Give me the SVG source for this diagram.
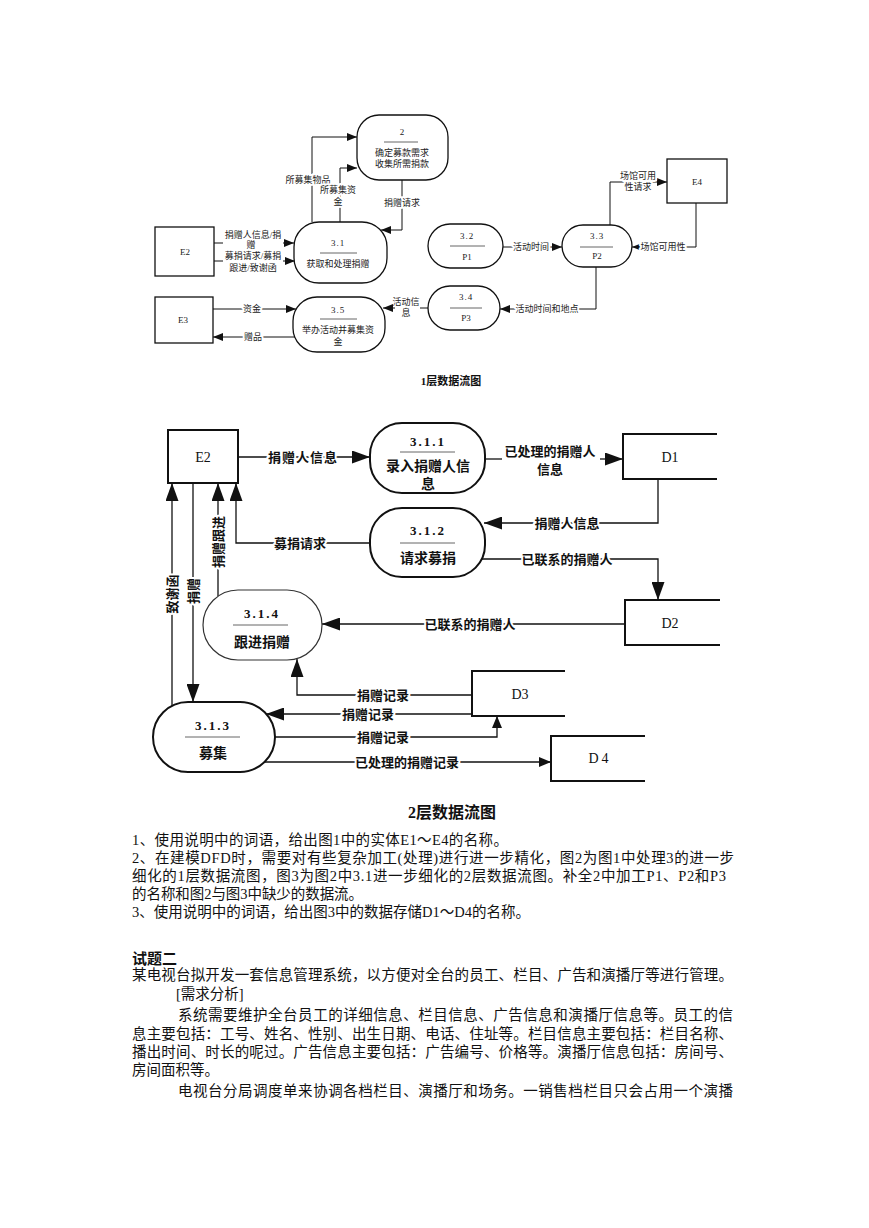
<svg xmlns="http://www.w3.org/2000/svg" width="869" height="1228" viewBox="0 0 869 1228">
<defs>
<style>
.n1{fill:#fff;stroke:#111;stroke-width:1.3}
.n2{fill:#fff;stroke:#111;stroke-width:2}
.sep{stroke:#666;stroke-width:1}
.t1{font-family:"Liberation Serif","Noto Sans CJK SC",serif;font-size:9px;fill:#222;text-anchor:middle;dominant-baseline:central}
.t2{font-family:"Liberation Serif","Noto Sans CJK SC",serif;font-size:13px;font-weight:bold;fill:#111;text-anchor:middle;dominant-baseline:central}
.t2n{font-family:"Liberation Serif","Noto Sans CJK SC",serif;font-size:14px;font-weight:bold;fill:#111;text-anchor:middle;dominant-baseline:central}
.t2d{font-family:"Liberation Serif","Noto Sans CJK SC",serif;font-size:14px;fill:#111;text-anchor:middle;dominant-baseline:central}
.h{stroke:#fff;stroke-width:4px;paint-order:stroke;stroke-linejoin:round}
.body{font-family:"Liberation Serif","Noto Sans CJK SC",serif;font-size:14.5px;fill:#111}
.c1{stroke:#111;stroke-width:1;fill:none}
.c2{stroke:#111;stroke-width:1.3;fill:none}
</style>
<marker id="ah1" viewBox="0 0 10 8" refX="10" refY="4" markerWidth="10" markerHeight="8" markerUnits="userSpaceOnUse" orient="auto"><path d="M0,0L10,4L0,8z" fill="#111"/></marker>
<marker id="ah2" viewBox="0 0 18 13" refX="18" refY="6.5" markerWidth="18" markerHeight="13" markerUnits="userSpaceOnUse" orient="auto"><path d="M0,0L18,6.5L0,13z" fill="#111"/></marker>
<marker id="ah3" viewBox="0 0 12 10" refX="12" refY="5" markerWidth="12" markerHeight="10" markerUnits="userSpaceOnUse" orient="auto"><path d="M0,0L12,5L0,10z" fill="#111"/></marker>
</defs>
<rect width="869" height="1228" fill="#fff"/>

<!-- ===== Level 1 diagram ===== -->
<g id="connectors-l1" class="c1">
<path d="M214,243H223"/><path d="M283,243H294" marker-end="url(#ah1)"/>
<path d="M214,261H223"/><path d="M283,261H295" marker-end="url(#ah1)"/>
<path d="M312,222V137H357" marker-end="url(#ah1)"/>
<path d="M340,222V168H357" marker-end="url(#ah1)"/>
<path d="M402,180V230H381" marker-end="url(#ah1)"/>
<path d="M213,309H296" marker-end="url(#ah1)"/>
<path d="M299,337H213" marker-end="url(#ah1)"/>
<path d="M428,308H420"/><path d="M395,308H383" marker-end="url(#ah1)"/>
<path d="M503,247H562" marker-end="url(#ah1)"/>
<path d="M610,225V182H667" marker-end="url(#ah1)"/>
<path d="M696,203V247H632" marker-end="url(#ah1)"/>
<path d="M596,267V309H500" marker-end="url(#ah1)"/>
</g>
<g id="labels-l1">
<text class="t1" x="253" y="235">捐赠人信息/捐</text>
<text class="t1" x="251" y="245">赠</text>
<text class="t1" x="253" y="256">募捐请求/募捐</text>
<text class="t1" x="253" y="268">跟进/致谢函</text>
<text class="t1 h" x="308" y="180">所募集物品</text>
<text class="t1 h" x="338" y="190">所募集资</text>
<text class="t1 h" x="338" y="202">金</text>
<text class="t1 h" x="402" y="203">捐赠请求</text>
<text class="t1 h" x="252" y="309">资金</text>
<text class="t1 h" x="253" y="337">赠品</text>
<text class="t1" x="406" y="302">活动信</text>
<text class="t1" x="406" y="313">息</text>
<text class="t1 h" x="531" y="247">活动时间</text>
<text class="t1 h" x="638" y="176">场馆可用</text>
<text class="t1 h" x="638" y="187">性请求</text>
<text class="t1 h" x="663" y="247">场馆可用性</text>
<text class="t1 h" x="547" y="309">活动时间和地点</text>
</g>
<g id="node-2">
<rect class="n1" x="357" y="115" width="91" height="65" rx="22"/>
<text class="t1" x="402" y="132">2</text>
<line class="sep" x1="384" y1="142" x2="418" y2="142"/>
<text class="t1" x="402" y="153">确定募款需求</text>
<text class="t1" x="402" y="164">收集所需捐款</text>
</g>
<g id="node-3-1">
<rect class="n1" x="294" y="222" width="93" height="61" rx="25"/>
<text class="t1" x="338" y="243" letter-spacing="1">3.1</text>
<line class="sep" x1="320" y1="253" x2="357" y2="253"/>
<text class="t1" x="338" y="264">获取和处理捐赠</text>
</g>
<g id="node-E2-l1">
<rect class="n1" x="155" y="227" width="59" height="49"/>
<text class="t1" x="185" y="252" font-size="8">E2</text>
</g>
<g id="node-E3">
<rect class="n1" x="155" y="297" width="58" height="46"/>
<text class="t1" x="183" y="320" font-size="8">E3</text>
</g>
<g id="node-3-5">
<rect class="n1" x="293" y="297" width="92" height="55" rx="24"/>
<text class="t1" x="338" y="310" letter-spacing="1">3.5</text>
<line class="sep" x1="320" y1="319" x2="357" y2="319"/>
<text class="t1" x="338" y="330">举办活动并募集资</text>
<text class="t1" x="338" y="342">金</text>
</g>
<g id="node-3-2">
<rect class="n1" x="428" y="224" width="75" height="44" rx="22"/>
<text class="t1" x="467" y="236" letter-spacing="1">3.2</text>
<line class="sep" x1="450" y1="246" x2="485" y2="246"/>
<text class="t1" x="467" y="257">P1</text>
</g>
<g id="node-3-3">
<rect class="n1" x="562" y="225" width="70" height="42" rx="21"/>
<text class="t1" x="597" y="236" letter-spacing="1">3.3</text>
<line class="sep" x1="580" y1="247" x2="613" y2="247"/>
<text class="t1" x="597" y="256">P2</text>
</g>
<g id="node-3-4">
<rect class="n1" x="428" y="286" width="72" height="44" rx="22"/>
<text class="t1" x="466" y="297" letter-spacing="1">3.4</text>
<line class="sep" x1="450" y1="308" x2="482" y2="308"/>
<text class="t1" x="466" y="318">P3</text>
</g>
<g id="node-E4">
<rect class="n1" x="667" y="159" width="60" height="44"/>
<text class="t1" x="697" y="182" font-size="8">E4</text>
</g>
<text x="451" y="385" font-family="Liberation Serif,Noto Sans CJK SC,serif" font-size="11" font-weight="bold" text-anchor="middle" fill="#111">1层数据流图</text>

<!-- ===== Level 2 diagram ===== -->
<g id="connectors-l2" class="c2">
<path d="M238,457H370" marker-end="url(#ah2)"/>
<path d="M485,459H502"/><path d="M600,459H623" marker-end="url(#ah2)"/>
<path d="M658,479V523H484" marker-end="url(#ah2)"/>
<path d="M482,559H658V600" marker-end="url(#ah2)"/>
<path d="M625,624H322" marker-end="url(#ah2)"/>
<path d="M472,695H297V659" marker-end="url(#ah2)"/>
<path d="M472,714H266" marker-end="url(#ah2)"/>
<path d="M275,737H497V716" marker-end="url(#ah3)"/>
<path d="M263,762H551" marker-end="url(#ah3)"/>
<path d="M172,706V483" marker-end="url(#ah2)"/>
<path d="M193,483V702" marker-end="url(#ah2)"/>
<path d="M218,596V483" marker-end="url(#ah2)"/>
<path d="M370,543H236V483" marker-end="url(#ah2)"/>
</g>
<g id="labels-l2">
<text class="t2 h" x="303" y="457" letter-spacing="1">捐赠人信息</text>
<text class="t2" x="550" y="451">已处理的捐赠人</text>
<text class="t2" x="550" y="469">信息</text>
<text class="t2 h" x="567" y="523">捐赠人信息</text>
<text class="t2 h" x="567" y="559">已联系的捐赠人</text>
<text class="t2 h" x="470" y="624">已联系的捐赠人</text>
<text class="t2 h" x="383" y="695">捐赠记录</text>
<text class="t2 h" x="368" y="714">捐赠记录</text>
<text class="t2 h" x="383" y="737">捐赠记录</text>
<text class="t2 h" x="407" y="762">已处理的捐赠记录</text>
<text class="t2 h" x="300" y="543">募捐请求</text>
<text class="t2 h" transform="translate(172,594) rotate(-90)" x="0" y="0">致谢函</text>
<text class="t2 h" transform="translate(193,591) rotate(-90)" x="0" y="0">捐赠</text>
<text class="t2 h" transform="translate(218,542) rotate(-90)" x="0" y="0">捐赠跟进</text>
</g>
<g id="node-E2">
<rect class="n2" x="168" y="430" width="70" height="53"/>
<text class="t2d" x="203" y="457">E2</text>
</g>
<g id="node-3-1-1">
<rect class="n2" x="370" y="423" width="115" height="70" rx="32"/>
<text class="t2" x="428" y="441" letter-spacing="2">3.1.1</text>
<line class="sep" x1="400" y1="452" x2="455" y2="452"/>
<text class="t2n" x="428" y="466">录入捐赠人信</text>
<text class="t2n" x="428" y="484">息</text>
</g>
<g id="node-3-1-2">
<rect class="n2" x="370" y="508" width="115" height="69" rx="32"/>
<text class="t2" x="428" y="530" letter-spacing="2">3.1.2</text>
<line class="sep" x1="400" y1="543" x2="455" y2="543"/>
<text class="t2n" x="428" y="558">请求募捐</text>
</g>
<g id="node-3-1-4">
<rect x="203" y="590" width="119" height="70" rx="35" fill="#fff" stroke="#333" stroke-width="1.2"/>
<text class="t2" x="262" y="613" letter-spacing="2">3.1.4</text>
<line class="sep" x1="233" y1="625" x2="288" y2="625"/>
<text class="t2n" x="262" y="642">跟进捐赠</text>
</g>
<g id="node-3-1-3">
<rect class="n2" x="153" y="702" width="122" height="70" rx="35"/>
<text class="t2" x="213" y="725" letter-spacing="2">3.1.3</text>
<line class="sep" x1="185" y1="737" x2="240" y2="737"/>
<text class="t2n" x="213" y="753">募集</text>
</g>
<g id="node-D1">
<path class="n2" fill="none" d="M717,434H623V479H717"/>
<text class="t2d" x="670" y="457">D1</text>
</g>
<g id="node-D2">
<path class="n2" fill="none" d="M720,600H625V645H720"/>
<text class="t2d" x="670" y="623">D2</text>
</g>
<g id="node-D3">
<path class="n2" fill="none" d="M565,671H472V716H565"/>
<text class="t2d" x="520" y="694">D3</text>
</g>
<g id="node-D4">
<path class="n2" fill="none" d="M645,736H551V781H645"/>
<text class="t2d" x="600" y="758" letter-spacing="3">D4</text>
</g>
<text x="452" y="818" font-family="Liberation Serif,Noto Sans CJK SC,serif" font-size="16" font-weight="bold" text-anchor="middle" fill="#111">2层数据流图</text>

<!-- ===== Body text ===== -->
<g id="body-text" class="body">
<text x="132" y="845" textLength="376" lengthAdjust="spacing">1、使用说明中的词语，给出图1中的实体E1～E4的名称。</text>
<text x="132" y="863" textLength="602" lengthAdjust="spacing">2、在建模DFD时，需要对有些复杂加工(处理)进行进一步精化，图2为图1中处理3的进一步</text>
<text x="132" y="881" textLength="594" lengthAdjust="spacing">细化的1层数据流图，图3为图2中3.1进一步细化的2层数据流图。补全2中加工P1、P2和P3</text>
<text x="132" y="899" textLength="231" lengthAdjust="spacing">的名称和图2与图3中缺少的数据流。</text>
<text x="132" y="917" textLength="398" lengthAdjust="spacing">3、使用说明中的词语，给出图3中的数据存储D1～D4的名称。</text>
<text x="132" y="964" font-weight="bold" font-size="15">试题二</text>
<text x="132" y="980" textLength="601" lengthAdjust="spacing">某电视台拟开发一套信息管理系统，以方便对全台的员工、栏目、广告和演播厅等进行管理。</text>
<text x="176" y="999">[需求分析]</text>
<text x="178" y="1020" textLength="555" lengthAdjust="spacing">系统需要维护全台员工的详细信息、栏目信息、广告信息和演播厅信息等。员工的信</text>
<text x="132" y="1039" textLength="601" lengthAdjust="spacing">息主要包括：工号、姓名、性别、出生日期、电话、住址等。栏目信息主要包括：栏目名称、</text>
<text x="132" y="1057" textLength="601" lengthAdjust="spacing">播出时间、时长的呢过。广告信息主要包括：广告编号、价格等。演播厅信息包括：房间号、</text>
<text x="132" y="1075">房间面积等。</text>
<text x="178" y="1096" textLength="555" lengthAdjust="spacing">电视台分局调度单来协调各档栏目、演播厅和场务。一销售档栏目只会占用一个演播</text>
</g>
</svg>
